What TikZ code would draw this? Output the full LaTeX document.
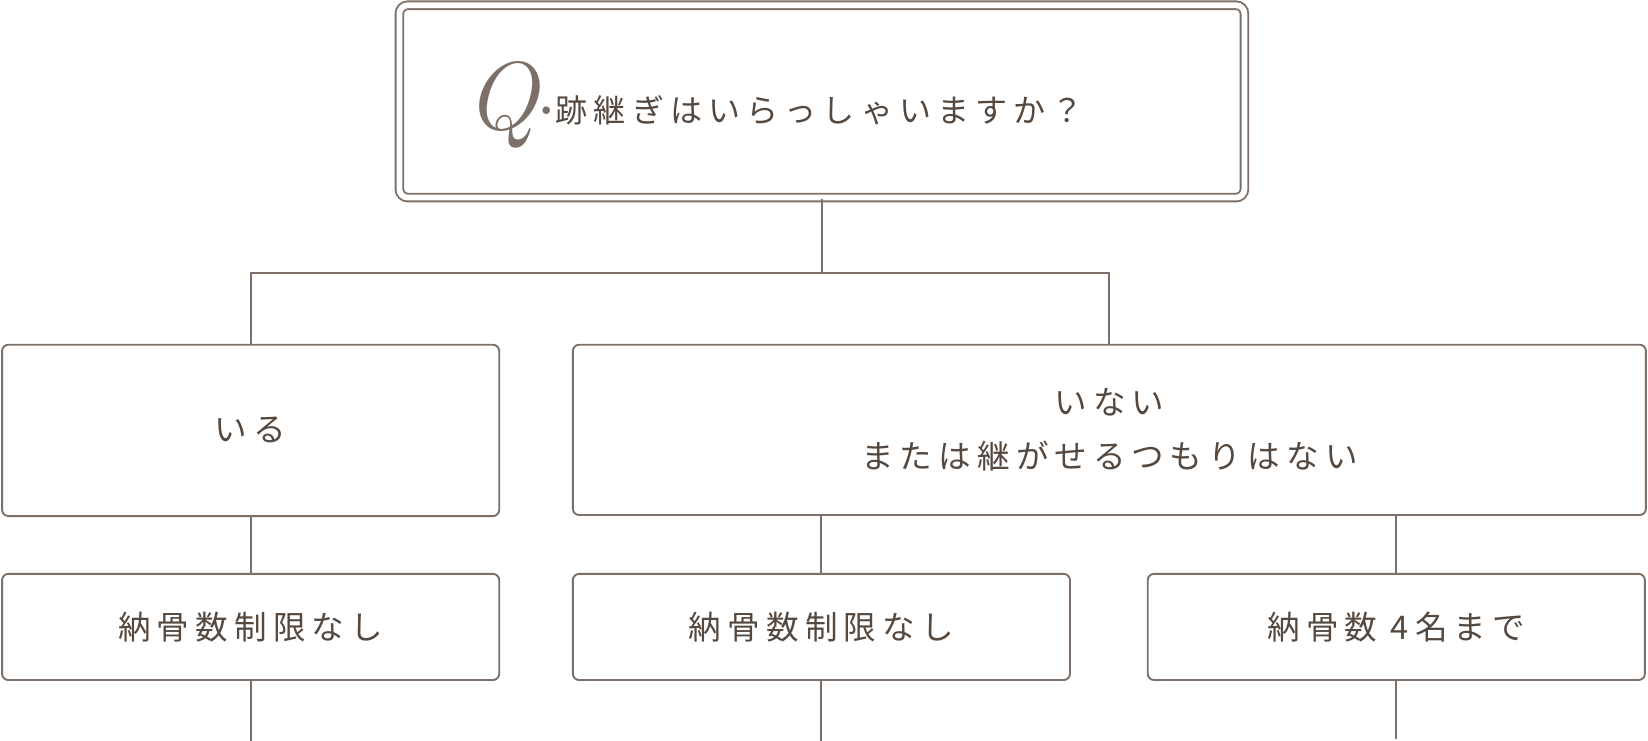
\documentclass[tikz,border=0pt]{standalone}
\usepackage{fontspec}
\usepackage{tikz}
\usetikzlibrary{calc}
\usetikzlibrary{shapes,arrows}

\newfontfamily\jpfont{Noto Sans CJK JP}[LetterSpace=19]
\definecolor{linebrown}{RGB}{125,112,104}
\definecolor{textbrown}{RGB}{84,72,63}

\tikzset{
  answerbox/.style={draw=linebrown, line width=1.8pt, rounded corners=6pt,
    inner sep=0pt, text=textbrown, font=\jpfont\fontsize{31}{52}\selectfont, align=center},
  link/.style={draw=linebrown, line width=1.8pt}
}

\begin{document}
\begin{tikzpicture}[x=1pt, y=-1pt]
    \useasboundingbox (0,0) rectangle (1568,705);

    \node [draw=linebrown, double=white, double distance=5.5pt, line width=1.8pt,
           rounded corners=8pt, minimum width=804pt, minimum height=183pt, inner sep=0pt]
           (Q) at (782,96.5) {};
    \node [text=textbrown, inner sep=0pt, anchor=base west] (Qlabel) at (443,117)
          {{\color{linebrown}\fontsize{92}{92}\selectfont\itshape\raisebox{-6pt}{Q}}%
           {\color{linebrown}\fontsize{50}{50}\selectfont\bfseries\raisebox{8pt}{.}}\hspace{1pt}%
           {\jpfont\fontsize{30.5}{31}\selectfont 跡継ぎはいらっしゃいますか？}};

    \node [answerbox, minimum width=473pt, minimum height=163pt] (Yes) at (238.5,409.5) {いる};
    \node [answerbox, minimum width=1021pt, minimum height=162pt] (No) at (1055.5,409)
          {いない\\または継がせるつもりはない};

    \node [answerbox, minimum width=473pt, minimum height=101pt] (B1) at (238.5,596.5) {納骨数制限なし};
    \node [answerbox, minimum width=473pt, minimum height=101pt] (B2) at (781.5,596.5) {納骨数制限なし};
    \node [answerbox, minimum width=473pt, minimum height=101pt] (B3) at (1328.5,596.5) {納骨数 4名まで};

    \coordinate (split) at (782,260);
    \coordinate (T1) at (238.5,705);
    \coordinate (T2) at (781.5,705);
    \coordinate (T3) at (1328.5,703);

     \draw [link] (Q.south) -- (split);
     \draw [link] (Yes.north) |- (split) -| (No.north);
     \draw [link] (Yes.south) -- (B1.north);
     \draw [link] (B2.north) -- (B2.north |- No.south);
     \draw [link] (B3.north) -- (B3.north |- No.south);
     \draw [link] (B1.south) -- (T1);
     \draw [link] (B2.south) -- (T2);
     \draw [link] (B3.south) -- (T3);
\end{tikzpicture}
\end{document}
